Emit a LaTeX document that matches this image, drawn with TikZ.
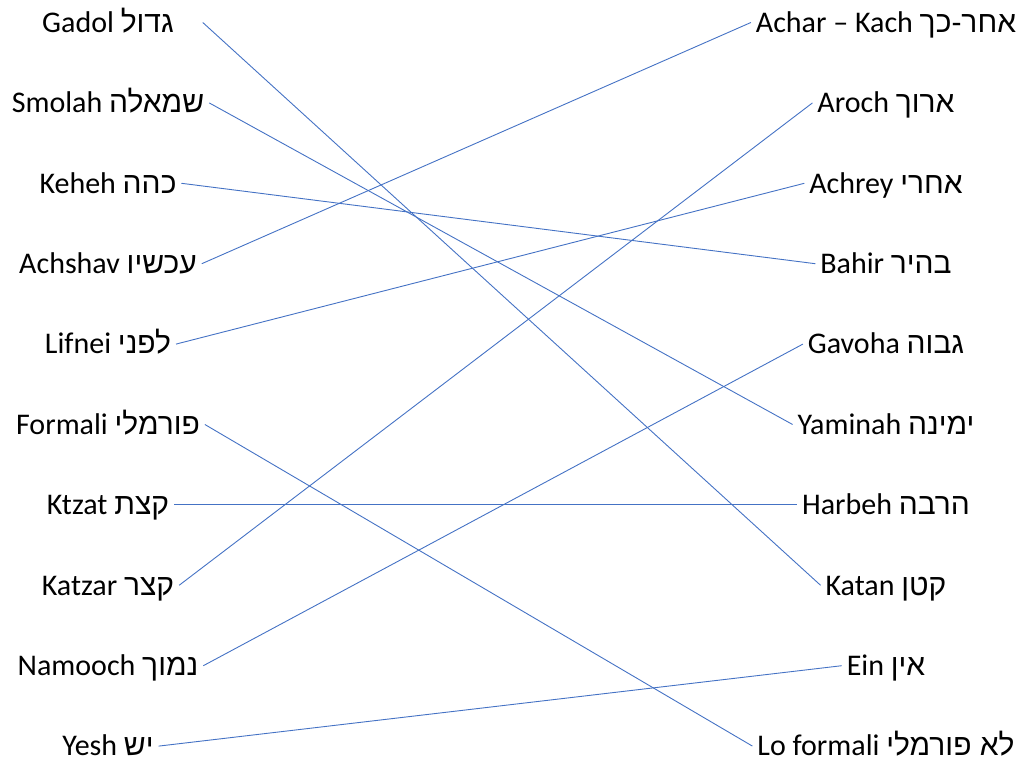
\documentclass[tikz,border=0pt]{standalone}
\usepackage{fontspec}
\setmainfont{Carlito}
\newfontfamily\hebfont[Script=Hebrew]{Liberation Sans}
\TeXXeTstate=1
\newcommand{\hebword}[1]{{\hebfont\beginR #1\endR}}
\usepackage{tikz}
\usetikzlibrary{positioning}
\definecolor{linkblue}{HTML}{4472C4}
\tikzset{
    wordbox/.style={font=\fontsize{30pt}{36pt}\selectfont, inner sep=2pt, outer sep=3pt, text height=20.5pt, text depth=1pt},
    matchline/.style={draw=linkblue, line width=0.9pt}
}

\begin{document}
\begin{tikzpicture}[x=1pt, y=-1pt, node distance=80.4pt, on grid]
        \useasboundingbox (0,0) rectangle (1026,759);
        % left column
        \node[wordbox] (gadol) at (108,22.5) {Gadol \hebword{גדול}};
        \node[wordbox, below=of gadol] (smolah) {Smolah \hebword{שמאלה}};
        \node[wordbox, below=of smolah] (keheh) {Keheh \hebword{כהה}};
        \node[wordbox, below=of keheh] (achshav) {Achshav \hebword{עכשיו}};
        \node[wordbox, below=of achshav] (lifnei) {Lifnei \hebword{לפני}};
        \node[wordbox, below=of lifnei] (formali) {Formali \hebword{פורמלי}};
        \node[wordbox, below=of formali] (ktzat) {Ktzat \hebword{קצת}};
        \node[wordbox, below=of ktzat] (katzar) {Katzar \hebword{קצר}};
        \node[wordbox, below=of katzar] (namooch) {Namooch \hebword{נמוך}};
        \node[wordbox, below=of namooch] (yesh) {Yesh \hebword{יש}};
        % right column
        \node[wordbox] (acharkach) at (886,22.5) {Achar – Kach \hebword{אחר-כך}};
        \node[wordbox, below=of acharkach] (aroch) {Aroch \hebword{ארוך}};
        \node[wordbox, below=of aroch] (achrey) {Achrey \hebword{אחרי}};
        \node[wordbox, below=of achrey] (bahir) {Bahir \hebword{בהיר}};
        \node[wordbox, below=of bahir] (gavoha) {Gavoha \hebword{גבוה}};
        \node[wordbox, below=of gavoha] (yaminah) {Yaminah \hebword{ימינה}};
        \node[wordbox, below=of yaminah] (harbeh) {Harbeh \hebword{הרבה}};
        \node[wordbox, below=of harbeh] (katan) {Katan \hebword{קטן}};
        \node[wordbox, below=of katan] (ein) {Ein \hebword{אין}};
        \node[wordbox, below=of ein] (loformali) {Lo formali \hebword{לא פורמלי}};
        % matches
        \draw[matchline] ([xshift=24pt]gadol.east) -- (katan.west);
        \draw[matchline] (smolah.east) -- (yaminah.west);
        \draw[matchline] (keheh.east) -- (bahir.west);
        \draw[matchline] (achshav.east) -- (acharkach.west);
        \draw[matchline] (lifnei.east) -- (achrey.west);
        \draw[matchline] (formali.east) -- (loformali.west);
        \draw[matchline] (ktzat.east) -- (harbeh.west);
        \draw[matchline] (katzar.east) -- (aroch.west);
        \draw[matchline] (namooch.east) -- (gavoha.west);
        \draw[matchline] (yesh.east) -- (ein.west);
    \end{tikzpicture}
\end{document}
